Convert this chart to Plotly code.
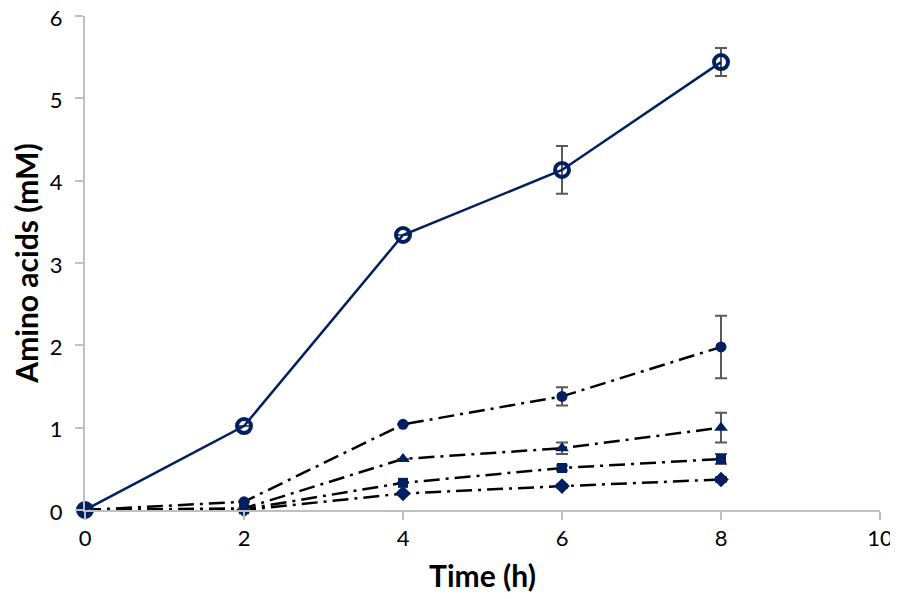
import plotly.graph_objects as go

time_h = [0, 2, 4, 6, 8]

s_open = [0, 1.02, 3.34, 4.13, 5.44]
e_open = [0, 0, 0, 0.29, 0.17]

s_circle = [0, 0.10, 1.04, 1.38, 1.98]
e_circle = [0, 0, 0, 0.11, 0.38]

s_tri = [0, 0.02, 0.62, 0.75, 1.00]
e_tri = [0, 0, 0, 0.07, 0.18]

s_sq = [0, 0.01, 0.33, 0.51, 0.62]
e_sq = [0, 0, 0, 0.03, 0.06]

s_dia = [0, 0.0, 0.20, 0.29, 0.37]
e_dia = [0, 0, 0, 0.02, 0.03]

navy = "#002060"
err_col = "#595959"
dash = "16px,6px,3px,6px"

fig = go.Figure()

def err(vals):
    return dict(type="data", array=vals, visible=True, color=err_col, thickness=2, width=6)

for ys, es, sym, sz in [
    (s_dia, e_dia, "diamond", 12),
    (s_sq, e_sq, "square", 10),
    (s_tri, e_tri, "triangle-up", 12),
    (s_circle, e_circle, "circle", 11),
]:
    fig.add_trace(go.Scatter(
        x=time_h, y=ys, mode="lines+markers",
        line=dict(color="black", width=2.5, dash=dash),
        marker=dict(symbol=sym, size=sz, color=navy),
        error_y=err(es), showlegend=False, cliponaxis=False,
    ))

fig.add_trace(go.Scatter(
    x=time_h, y=s_open, mode="lines+markers",
    line=dict(color=navy, width=2.5),
    marker=dict(symbol="circle-open", size=14, color=navy, line=dict(color=navy, width=4)),
    error_y=err(e_open), showlegend=False, cliponaxis=False,
))

font = "Lato, 'Open Sans', sans-serif"
fig.update_layout(
    width=890, height=591,
    margin=dict(l=77, r=18, t=8, b=89, autoexpand=False),
    paper_bgcolor="white", plot_bgcolor="white",
    font=dict(family=font, size=22, color="black"),
    xaxis=dict(
        range=[0, 10], dtick=2, showgrid=False, zeroline=False,
        showline=True, linecolor="#bfbfbf", linewidth=2,
        ticks="outside", ticklen=8, tickcolor="#bfbfbf", tickwidth=2,
        ticklabeloverflow="allow", automargin=False,
        title=dict(text="<b>Time (h)</b>", font=dict(size=30), standoff=16),
        tickfont=dict(size=22),
    ),
    yaxis=dict(
        range=[0, 6], dtick=1, showgrid=False, zeroline=False,
        showline=True, linecolor="#bfbfbf", linewidth=2,
        ticks="outside", ticklen=8, tickcolor="#bfbfbf", tickwidth=2,
        ticklabeloverflow="allow", ticklabelstandoff=8, ticklabelshift=2,
        automargin=False,
        title=dict(text="<b>Amino acids (mM)</b>", font=dict(size=30), standoff=4),
        tickfont=dict(size=22),
    ),
)

fig.write_html("out.html")
